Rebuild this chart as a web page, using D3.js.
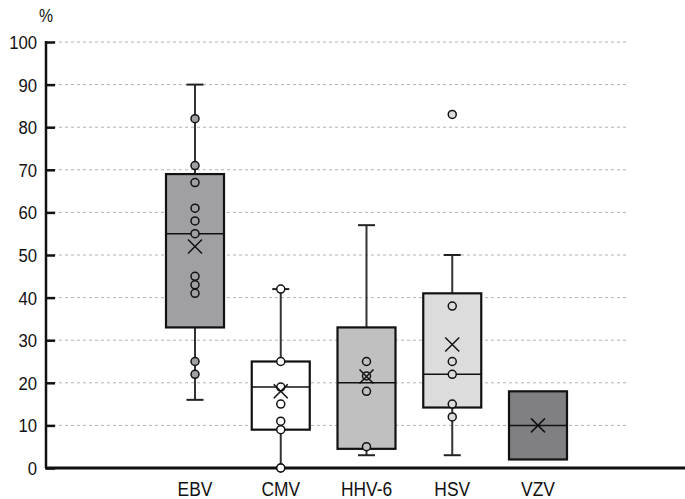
<!DOCTYPE html>
<html>
<head>
<meta charset="utf-8">
<script src="https://cdn.jsdelivr.net/npm/d3@7"></script>
<style>
  body { margin: 0; background: #fff; }
  text { font-family: "Liberation Sans", Arial, sans-serif; fill: #111; }
</style>
</head>
<body>
<div id="chart"></div>
<script>
// values (%)
var viruses = ["EBV", "CMV", "HHV-6", "HSV", "VZV"];
var whiskLow  = [16, 0, 3, 3, null];
var q1        = [33, 9, 4.5, 14.2, 2];
var medians   = [55, 19, 20, 22, 10];
var q3        = [69, 25, 33, 41, 18];
var whiskHigh = [90, 42, 57, 50, null];
var means     = [52, 18, 21.5, 29, 10];
var points = [
  [82, 71, 67, 61, 58, 55, 45, 43, 41, 25, 22],
  [42, 25, 19, 15, 11, 9, 0],
  [25, 21.6, 18, 5],
  [83, 38, 25, 22, 15, 12],
  []
];
var fills = ["#a0a0a4", "#ffffff", "#c0c0c0", "#dcdcdc", "#808084"];
var yTicks = [0, 10, 20, 30, 40, 50, 60, 70, 80, 90, 100];

var width = 685, height = 499;
var svg = d3.select("#chart").append("svg")
    .attr("width", width)
    .attr("height", height);

var y = d3.scaleLinear().domain([0, 100]).range([468, 42]);
var x = d3.scalePoint().domain(viruses).range([195, 538]);
var boxW = 58, capW = 17;

// grid lines
svg.append("g")
  .selectAll("line")
  .data(yTicks.slice(1))
  .enter().append("line")
    .attr("x1", 47).attr("x2", 628)
    .attr("y1", function(d) { return y(d); })
    .attr("y2", function(d) { return y(d); })
    .attr("stroke", "#b0b0b0")
    .attr("stroke-width", 1)
    .attr("stroke-dasharray", "3,3");

// y axis
var yAxis = svg.append("g")
    .attr("transform", "translate(46,0)")
    .call(d3.axisRight(y).tickValues(yTicks).tickSize(9).tickFormat(""));
yAxis.select(".domain").remove();
yAxis.selectAll("line").attr("stroke", "#111").attr("stroke-width", 2.5);
svg.append("line")
    .attr("x1", 46).attr("x2", 46)
    .attr("y1", y(100) - 1).attr("y2", y(0))
    .attr("stroke", "#111").attr("stroke-width", 2.5);

svg.append("g").selectAll("text")
  .data(yTicks)
  .enter().append("text")
    .attr("transform", function(d) { return "translate(37," + (y(d) + 7) + ") scale(0.88,1)"; })
    .attr("text-anchor", "end")
    .style("font-size", "19px")
    .text(function(d) { return d; });

svg.append("text")
    .attr("transform", "translate(46,22) scale(0.88,1)")
    .attr("text-anchor", "middle")
    .style("font-size", "18px")
    .text("%");

// boxes
viruses.forEach(function(v, i) {
  var cx = x(v);
  var g = svg.append("g");

  if (whiskHigh[i] != null) {
    g.append("line")
      .attr("x1", cx).attr("x2", cx)
      .attr("y1", y(whiskHigh[i])).attr("y2", y(q3[i]))
      .attr("stroke", "#333").attr("stroke-width", 2);
    g.append("line")
      .attr("x1", cx - capW / 2).attr("x2", cx + capW / 2)
      .attr("y1", y(whiskHigh[i])).attr("y2", y(whiskHigh[i]))
      .attr("stroke", "#222").attr("stroke-width", 2);
  }
  if (whiskLow[i] != null) {
    g.append("line")
      .attr("x1", cx).attr("x2", cx)
      .attr("y1", y(q1[i])).attr("y2", y(whiskLow[i]))
      .attr("stroke", "#333").attr("stroke-width", 2);
    g.append("line")
      .attr("x1", cx - capW / 2).attr("x2", cx + capW / 2)
      .attr("y1", y(whiskLow[i])).attr("y2", y(whiskLow[i]))
      .attr("stroke", "#222").attr("stroke-width", 2);
  }

  g.append("rect")
    .attr("x", cx - boxW / 2)
    .attr("y", y(q3[i]))
    .attr("width", boxW)
    .attr("height", y(q1[i]) - y(q3[i]))
    .attr("fill", fills[i])
    .attr("stroke", "#111")
    .attr("stroke-width", 2.2);

  g.append("line")
    .attr("x1", cx - boxW / 2).attr("x2", cx + boxW / 2)
    .attr("y1", y(medians[i])).attr("y2", y(medians[i]))
    .attr("stroke", "#111").attr("stroke-width", 1.5);

  g.selectAll("circle")
    .data(points[i])
    .enter().append("circle")
      .attr("cx", cx)
      .attr("cy", function(d) { return y(d); })
      .attr("r", 4)
      .attr("fill", fills[i])
      .attr("stroke", "#111")
      .attr("stroke-width", 1.5);

  var m = y(means[i]), s = 7;
  g.append("path")
    .attr("d", "M" + (cx - s) + "," + (m - s) + "L" + (cx + s) + "," + (m + s) +
               "M" + (cx - s) + "," + (m + s) + "L" + (cx + s) + "," + (m - s))
    .attr("stroke", "#111")
    .attr("stroke-width", 1.5)
    .attr("fill", "none");
});

// x axis
svg.append("line")
    .attr("x1", 45).attr("x2", 685)
    .attr("y1", y(0)).attr("y2", y(0))
    .attr("stroke", "#111").attr("stroke-width", 3);

svg.append("g").selectAll("text")
  .data(viruses)
  .enter().append("text")
    .attr("transform", function(d) { return "translate(" + x(d) + ",496) scale(0.87,1)"; })
    .attr("text-anchor", "middle")
    .style("font-size", "20px")
    .text(function(d) { return d; });

// CMV bottom point sits on the axis, draw it on top
svg.append("circle")
    .attr("cx", x("CMV")).attr("cy", y(points[1][6]))
    .attr("r", 4).attr("fill", "#fff")
    .attr("stroke", "#111").attr("stroke-width", 1.5);
</script>
</body>
</html>
